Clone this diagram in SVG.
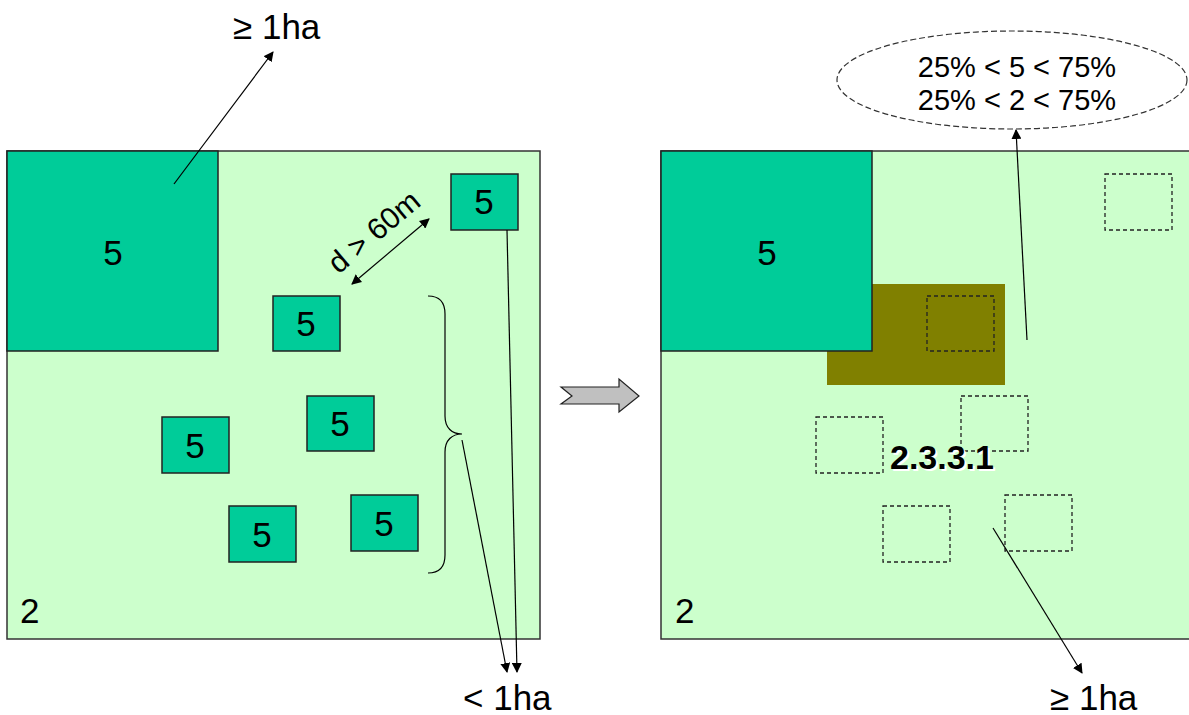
<svg xmlns="http://www.w3.org/2000/svg" width="1189" height="715" viewBox="0 0 1189 715">
<style>
.t{font-family:"Liberation Sans",Arial,sans-serif;fill:#000}
.panel{fill:#CCFFCC;stroke:#333;stroke-width:1.5}
.sq{fill:#00CC99;stroke:#222;stroke-width:1.5}
.dsq{fill:none;stroke:#222;stroke-width:1.3;stroke-dasharray:4,3}
.ln{stroke:#000;stroke-width:1.2;fill:none}
.num{font-size:35px;text-anchor:middle}
.lbl{font-size:35px}
</style>
<defs>
<marker id="ah" viewBox="0 0 10 10" refX="9" refY="5" markerWidth="10" markerHeight="10" markerUnits="userSpaceOnUse" orient="auto-start-reverse">
<path d="M0,0 L10,5 L0,10 z" fill="#000"/>
</marker>
</defs>
<rect width="1189" height="715" fill="#fff"/>

<g id="left-panel">
<rect class="panel" x="7" y="151" width="533" height="488"/>
<text class="t" x="20" y="623" font-size="35">2</text>
</g>
<g id="left-big5">
<rect class="sq" x="7" y="151" width="211" height="200"/>
<text class="t num" x="113" y="265">5</text>
</g>
<g id="left-s1"><rect class="sq" x="451" y="174" width="67" height="56"/><text class="t num" x="484" y="214">5</text></g>
<g id="left-s2"><rect class="sq" x="273" y="296" width="67" height="55"/><text class="t num" x="306" y="336">5</text></g>
<g id="left-s3"><rect class="sq" x="307" y="396" width="67" height="55"/><text class="t num" x="340" y="436">5</text></g>
<g id="left-s4"><rect class="sq" x="162" y="417" width="67" height="56"/><text class="t num" x="195" y="458">5</text></g>
<g id="left-s5"><rect class="sq" x="229" y="506" width="67" height="56"/><text class="t num" x="262" y="547">5</text></g>
<g id="left-s6"><rect class="sq" x="351" y="495" width="67" height="56"/><text class="t num" x="384" y="536">5</text></g>

<g id="right-panel">
<rect class="panel" x="661" y="151" width="540" height="488"/>
<text class="t" x="675" y="623" font-size="35">2</text>
</g>
<g id="olive-area">
<rect x="827" y="284" width="178" height="101" fill="#808000"/>
</g>
<g id="right-big5">
<rect class="sq" x="661" y="151" width="211" height="200"/>
<text class="t num" x="767" y="265">5</text>
</g>
<g id="right-dashed">
<rect class="dsq" x="1105" y="174" width="67" height="56"/>
<rect class="dsq" x="927" y="296" width="67" height="55"/>
<rect class="dsq" x="961" y="396" width="67" height="55"/>
<rect class="dsq" x="816" y="417" width="67" height="56"/>
<rect class="dsq" x="883" y="506" width="67" height="56"/>
<rect class="dsq" x="1005" y="495" width="67" height="56"/>
</g>
<g id="class-label">
<text class="t" x="892" y="471" font-size="34" font-weight="bold" style="fill:#fff">2.3.3.1</text>
<text class="t" x="890" y="469" font-size="34" font-weight="bold">2.3.3.1</text>
</g>

<g id="ellipse-node">
<ellipse cx="1012" cy="80" rx="175" ry="49" fill="#fff" stroke="#333" stroke-width="1.2" stroke-dasharray="6,3"/>
<text class="t" x="1017" y="77" font-size="29" text-anchor="middle">25% &lt; 5 &lt; 75%</text>
<text class="t" x="1017" y="110" font-size="29" text-anchor="middle">25% &lt; 2 &lt; 75%</text>
</g>

<g id="transform-arrow">
<path d="M561,387 L619,387 L619,379 L639,396 L619,412 L619,404 L561,404 L572,396 Z" fill="#C0C0C0" stroke="#222" stroke-width="1.2"/>
</g>

<g id="labels">
<text class="t lbl" x="233" y="39">≥ 1ha</text>
<text class="t lbl" x="463" y="710">&lt; 1ha</text>
<text class="t lbl" x="1050" y="710">≥ 1ha</text>
<g transform="translate(374,232) rotate(-40)">
<text class="t" x="0" y="10" font-size="30" text-anchor="middle">d &gt; 60m</text>
</g>
</g>

<g id="connectors">
<line class="ln" x1="174" y1="184" x2="273" y2="52" marker-end="url(#ah)"/>
<line class="ln" x1="352" y1="284" x2="429" y2="219" marker-start="url(#ah)" marker-end="url(#ah)"/>
<path class="ln" d="M428,296 C440,296 445,302 445,314 L445,416 C445,428 452,434 462,434 C452,434 445,440 445,452 L445,555 C445,567 440,573 428,573"/>
<line class="ln" x1="462" y1="440" x2="507" y2="672" marker-end="url(#ah)"/>
<line class="ln" x1="507" y1="230" x2="517" y2="672" marker-end="url(#ah)"/>
<line class="ln" x1="1027" y1="340" x2="1016" y2="130" marker-end="url(#ah)"/>
<line class="ln" x1="993" y1="528" x2="1082" y2="673" marker-end="url(#ah)"/>
</g>
</svg>
